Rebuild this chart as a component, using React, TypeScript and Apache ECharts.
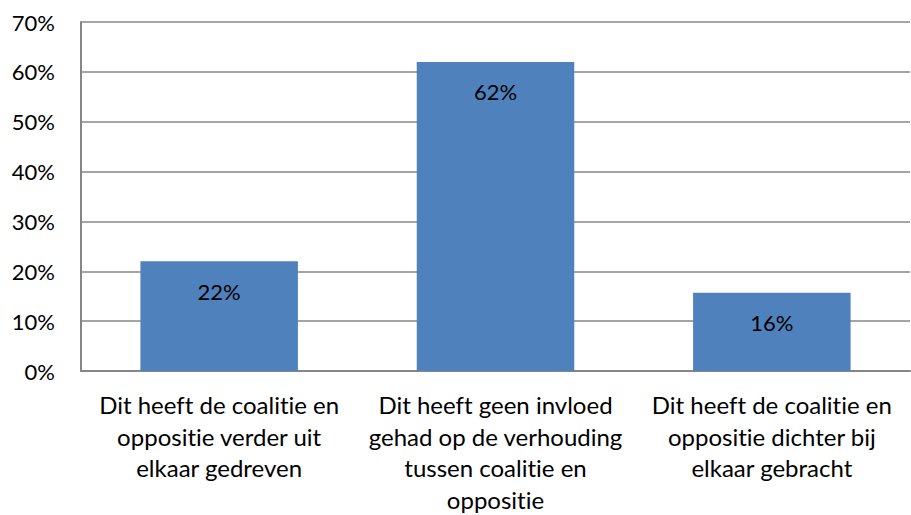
import React, { useEffect, useRef } from "react";
import * as echarts from "echarts";

const categories = [
  "Dit heeft de coalitie en\noppositie verder uit\nelkaar gedreven",
  "Dit heeft geen invloed\ngehad op de verhouding\ntussen coalitie en\noppositie",
  "Dit heeft de coalitie en\noppositie dichter bij\nelkaar gebracht",
];
const values = [22, 62, 15.7];
const yMin = 0;
const yMax = 70;
const yInterval = 10;

const FONT = "Lato, 'Open Sans', sans-serif";

export default function App() {
  const ref = useRef<HTMLDivElement>(null);
  useEffect(() => {
    if (!ref.current) return;
    const chart = echarts.init(ref.current, null, { renderer: "svg" });
    chart.setOption({
      animation: false,
      backgroundColor: "#ffffff",
      grid: { left: 81, right: 1, top: 22, bottom: 144, containLabel: false },
      xAxis: {
        type: "category",
        data: categories,
        axisLine: { show: true, lineStyle: { color: "#868686", width: 2 } },
        axisTick: { show: false },
        axisLabel: {
          interval: 0,
          color: "#000000",
          fontFamily: FONT,
          fontSize: 24,
          lineHeight: 31.5,
          margin: 18,
        },
      },
      yAxis: {
        type: "value",
        min: yMin,
        max: yMax,
        interval: yInterval,
        axisLine: { show: true, lineStyle: { color: "#868686", width: 2 } },
        axisTick: { show: false },
        splitLine: { show: true, lineStyle: { color: "#868686", width: 1.5 } },
        axisLabel: {
          color: "#000000",
          fontFamily: FONT,
          fontSize: 22,
          margin: 26,
          formatter: (v: number) => `${v}%`,
        },
      },
      series: [
        {
          type: "bar",
          data: values,
          barWidth: "57%",
          itemStyle: { color: "#4F81BD" },
          label: {
            show: true,
            position: "insideTop",
            distance: 19,
            color: "#000000",
            fontFamily: FONT,
            fontSize: 22,
            formatter: (p: any) => `${Math.round(p.value)}%`,
          },
        },
      ],
    });
    return () => chart.dispose();
  }, []);
  return (
    <div
      ref={ref}
      style={{
        width: 911,
        height: 515,
        position: "absolute",
        left: 0,
        top: 0,
        fontVariantLigatures: "none",
      }}
    />
  );
}
